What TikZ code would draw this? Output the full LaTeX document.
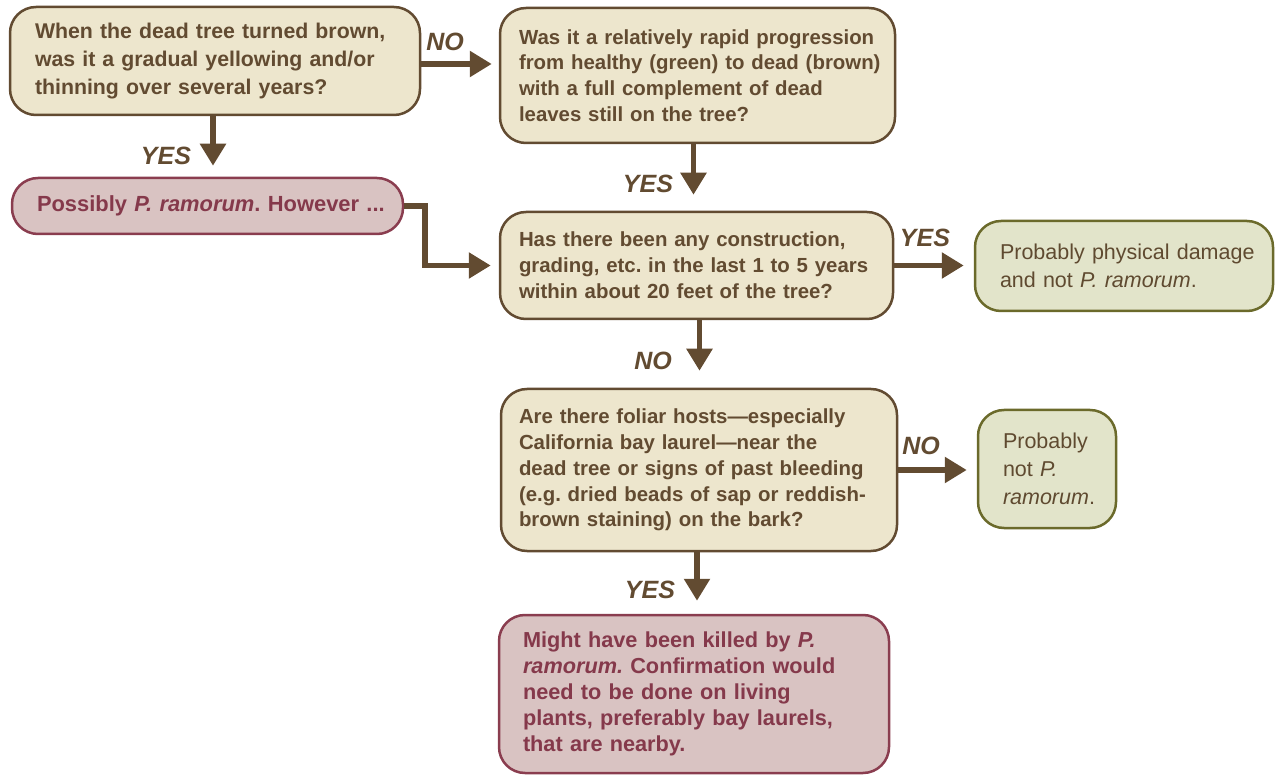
\documentclass[tikz,border=0pt]{standalone}
\usepackage{fontspec}
\setmainfont{Liberation Sans}
\usetikzlibrary{arrows.meta}
\definecolor{cream}{HTML}{EDE6CD}
\definecolor{brn}{HTML}{624B31}
\definecolor{pinkf}{HTML}{D9C3C2}
\definecolor{pinkd}{HTML}{8A3D4F}
\definecolor{pinkt}{HTML}{85394B}
\definecolor{greenf}{HTML}{E2E4CA}
\definecolor{greend}{HTML}{6B6A2B}
\definecolor{greent}{HTML}{5F4A30}
\frenchspacing
\newcommand\mb[1]{\mbox{#1}}
\begin{document}
\begin{tikzpicture}[x=1pt,y=-1pt,
 box/.style={rounded corners=26pt, line width=2.5pt, align=left, inner ysep=0pt},
 qbox/.style={box, draw=brn, fill=cream, text=brn, font=\fontsize{20.4}{25.8}\selectfont\bfseries},
 rbox/.style={box, draw=pinkd, fill=pinkf, text=pinkt, font=\fontsize{21.7}{26}\selectfont\bfseries},
 gbox/.style={box, draw=greend, fill=greenf, text=greent, font=\fontsize{21.5}{27.5}\selectfont},
 flow/.style={draw=brn, line width=5.5pt, -{Triangle[length=22pt,width=25pt]}},
 lbl/.style={text=brn, font=\fontsize{25}{25}\selectfont\bfseries\itshape, inner sep=0pt}
]
\useasboundingbox (0,0) rectangle (1275,775);

\node[qbox, font=\fontsize{21.3}{28}\selectfont\bfseries, text width=360pt, inner xsep=25pt, minimum width=410pt, minimum height=108pt] (q1) at (215,61)
 {\mb{When the dead tree turned brown,}\\\mb{was it a gradual yellowing and/or}\\\mb{thinning over several years?}};

\node[qbox, text width=357pt, inner xsep=19pt, minimum width=395pt, minimum height=135pt] (q2) at (697.5,75.5)
 {\mb{Was it a relatively rapid progression}\\\mb{from healthy (green) to dead (brown)}\\\mb{with a full complement of dead}\\\mb{leaves still on the tree?}};

\node[rbox, font=\fontsize{21.9}{26}\selectfont\bfseries, text width=341pt, inner xsep=25pt, minimum width=391pt, minimum height=56pt] (r1) at (207.5,206)
 {\mb{Possibly \textit{P. ramorum}. However ...}};

\node[qbox, text width=355pt, inner xsep=19pt, minimum width=393pt, minimum height=107pt] (q3) at (696.5,265.5)
 {\mb{Has there been any construction,}\\\mb{grading, etc. in the last 1 to 5 years}\\\mb{within about 20 feet of the tree?}};

\node[gbox, text width=248pt, inner xsep=25pt, minimum width=298pt, minimum height=90pt] (g1) at (1124,266)
 {\mb{Probably physical damage}\\\mb{and not \textit{P. ramorum}.}};

\node[qbox, text width=360pt, inner xsep=18pt, minimum width=396pt, minimum height=162pt] (q4) at (699,470)
 {\mb{Are there foliar hosts—especially}\\\mb{California bay laurel—near the}\\\mb{dead tree or signs of past bleeding}\\\mb{(e.g. dried beads of sap or reddish-}\\\mb{brown staining) on the bark?}};

\node[gbox, font=\fontsize{21.5}{28}\selectfont, text width=88pt, inner xsep=25pt, minimum width=138pt, minimum height=118pt] (g2) at (1047,469)
 {\mb{Probably}\\\mb{not \textit{P.}}\\\mb{\textit{ramorum}.}};

\node[rbox, text width=342pt, inner xsep=24pt, minimum width=390pt, minimum height=158pt] (r2) at (694,694)
 {\mb{Might have been killed by \textit{P.}}\\\mb{\textit{ramorum.} Confirmation would}\\\mb{need to be done on living}\\\mb{plants, preferably bay laurels,}\\\mb{that are nearby.}};

\coordinate (bend) at (425,206);

\draw[flow, shorten >=7pt] ([yshift=-3pt]q1.east) -- ([yshift=-3pt]q1.east -| q2.west);
\draw[flow, shorten >=11pt] ([xshift=-2pt]q1.south) -- ([xshift=-2pt]q1.south |- r1.north);
\draw[flow, shorten >=16pt] ([xshift=-4pt]q2.south) -- ([xshift=-4pt]q2.south |- q3.north);
\draw[flow, shorten >=8pt] (r1.east) -- (bend) |- (q3.west);
\draw[flow, shorten >=10pt] (q3.east) -- (q3.east -| g1.west);
\draw[flow, shorten >=17pt] ([xshift=3pt]q3.south) -- ([xshift=3pt]q3.south |- q4.north);
\draw[flow, shorten >=10pt] (q4.east) -- (q4.east -| g2.west);
\draw[flow, shorten >=13pt] ([xshift=-2pt]q4.south) -- ([xshift=-2pt]q4.south |- r2.north);

\node[lbl] (l1) at (445,42) {NO};
\node[lbl] (l2) at (166,156) {YES};
\node[lbl] (l3) at (648,184) {YES};
\node[lbl] (l4) at (925,238) {YES};
\node[lbl] (l5) at (653,361) {NO};
\node[lbl] (l6) at (921,446) {NO};
\node[lbl] (l7) at (650,590) {YES};
\end{tikzpicture}
\end{document}
